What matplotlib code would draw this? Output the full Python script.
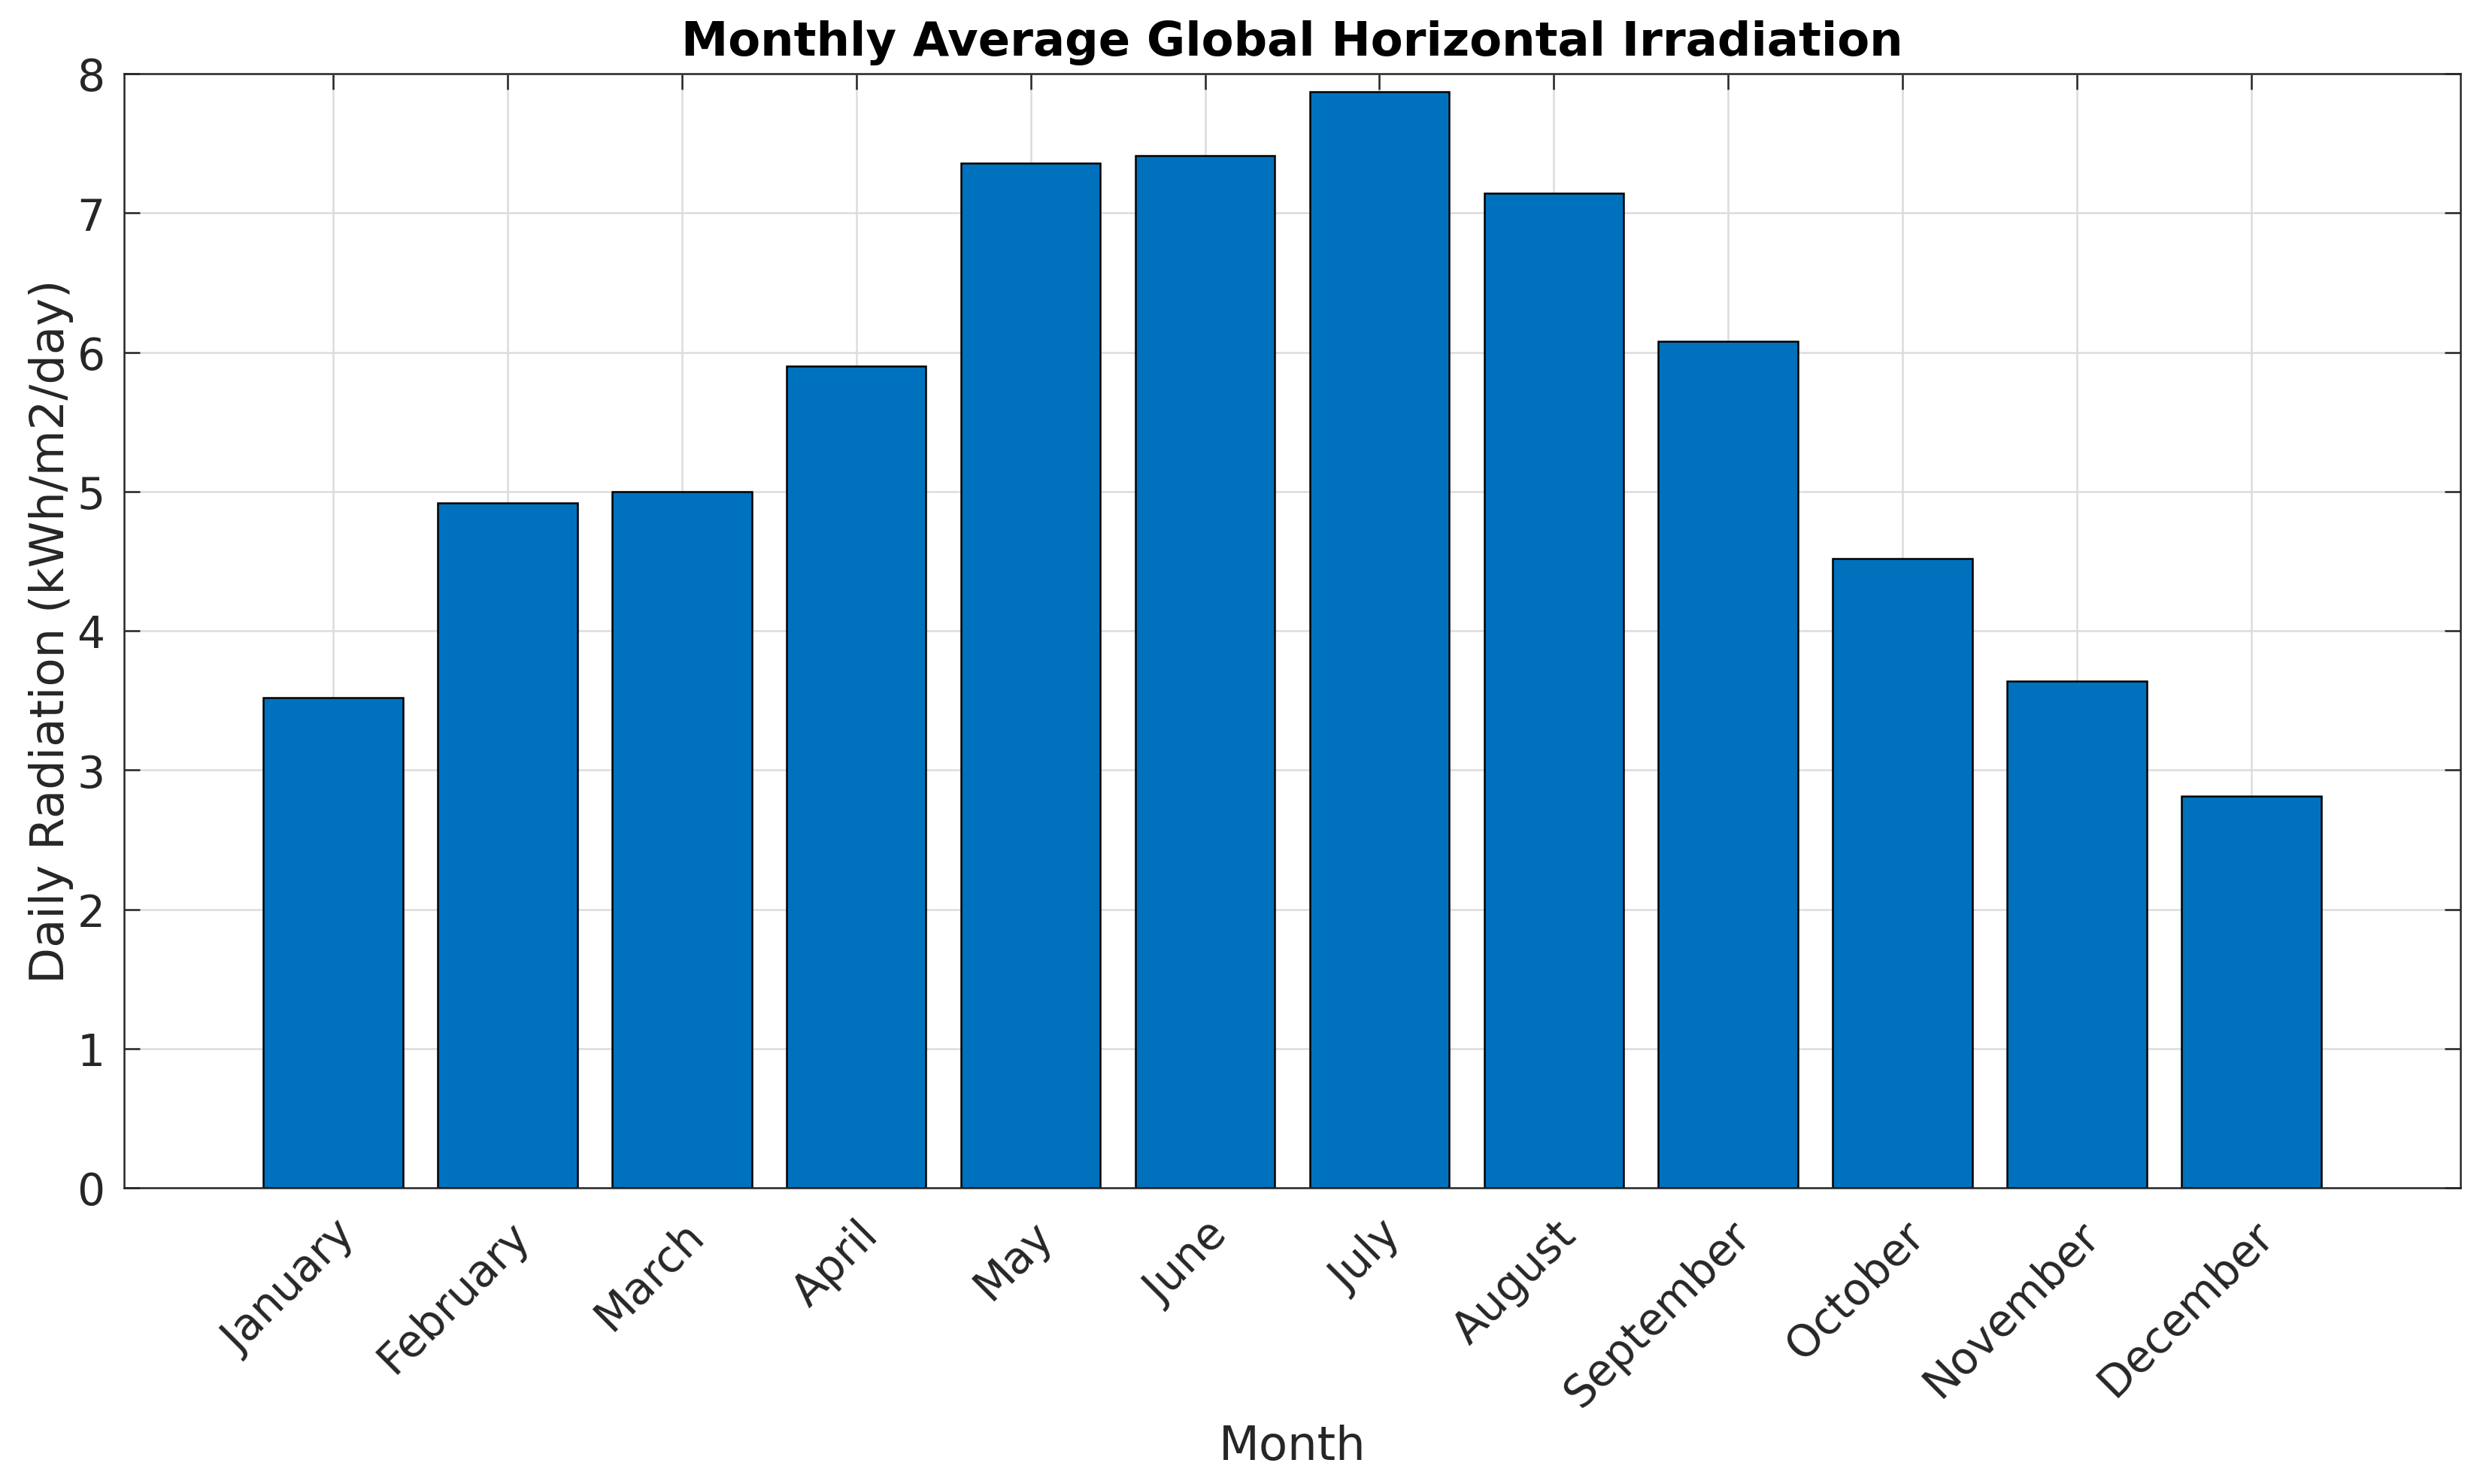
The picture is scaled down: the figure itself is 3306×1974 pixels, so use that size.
import numpy as np
import matplotlib
matplotlib.use('Agg')
from matplotlib import pyplot as plt
from matplotlib.transforms import ScaledTranslation

# Monthly average global horizontal irradiation (kWh/m2/day).
months = ['January', 'February', 'March', 'April', 'May', 'June', 'July',
          'August', 'September', 'October', 'November', 'December']
radiation = [3.52, 4.92, 5.00, 5.90, 7.36, 7.41, 7.87, 7.14, 6.08, 4.52, 3.64, 2.81]

plt.rcParams['font.family'] = 'DejaVu Sans'
dark = '#262626'

fig = plt.figure(figsize=(11.02, 6.583), dpi=300)
ax = fig.add_axes([0.0498, 0.1995, 0.9400, 0.7504])

x = np.arange(1, len(months) + 1)
ax.bar(x, radiation, width=0.8, color='#0072BD', edgecolor='black',
       linewidth=0.6, zorder=2)

ax.set_xlim(-0.2, 13.2)
ax.set_ylim(0, 8)
ax.set_xticks(x)
ax.set_xticklabels(months, rotation=45, ha='right', rotation_mode='anchor')
ax.set_yticks(range(0, 9))

# nudge rotated labels a little to the right, as in the original
shift = ScaledTranslation(4 / 72, 0, fig.dpi_scale_trans)
for lab in ax.get_xticklabels():
    lab.set_transform(lab.get_transform() + shift)

ax.grid(True, color='#dcdcdc', linewidth=0.6, zorder=0)
ax.set_axisbelow(True)
ax.tick_params(axis='both', direction='in', length=5, width=0.6, colors=dark,
               labelsize=14, top=True, right=True, pad=6)
ax.tick_params(axis='x', pad=8)
for sp in ax.spines.values():
    sp.set_color(dark)
    sp.set_linewidth(0.6)
    sp.set_zorder(3)

ax.set_xlabel('Month', fontsize=15, color=dark, labelpad=3)
ax.set_ylabel('Daily Radiation (kWh/m2/day)', fontsize=15, color=dark, labelpad=1)
ax.set_title('Monthly Average Global Horizontal Irradiation', fontsize=15,
             fontweight='bold', pad=6)

fig.savefig('out.png', dpi=300)
